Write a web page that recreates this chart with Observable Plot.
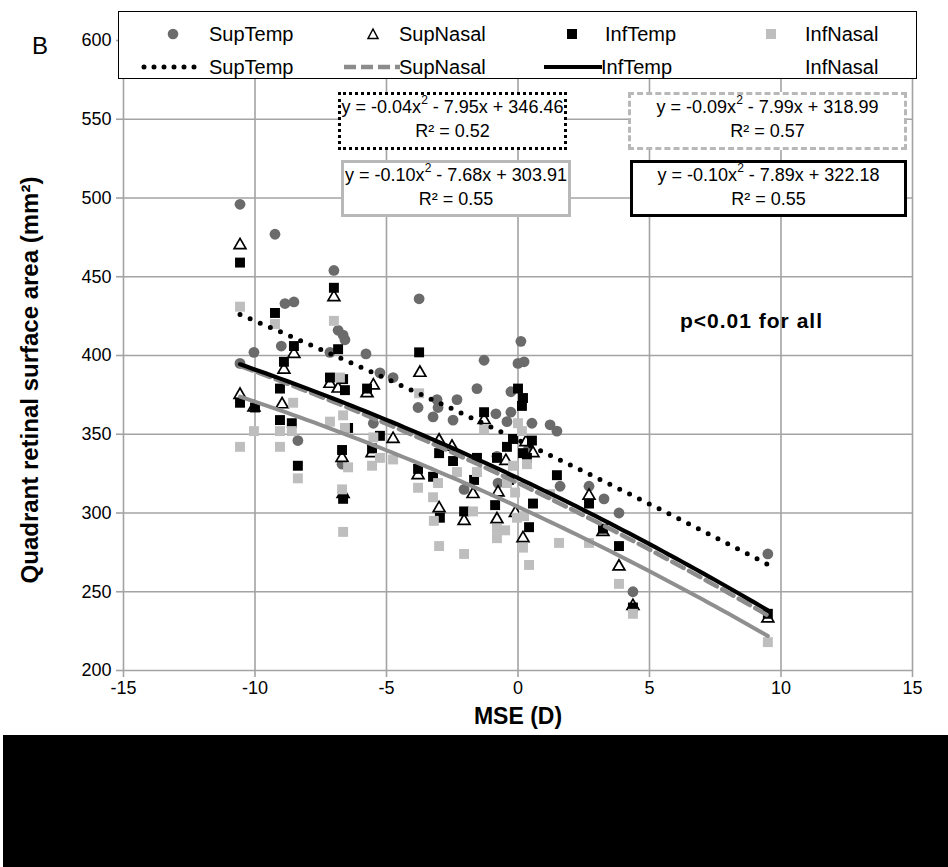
<!DOCTYPE html>
<html><head><meta charset="utf-8">
<script src="https://cdn.jsdelivr.net/npm/d3@7"></script>
<script src="https://cdn.jsdelivr.net/npm/@observablehq/plot@0.6"></script>
<style>
body{margin:0;background:#fff;font-family:"Liberation Sans",Arial,sans-serif;}
#wrap{position:relative;width:948px;height:867px;overflow:hidden;background:#fff;}
.ov{position:absolute;white-space:nowrap;color:#000;}
.eq{position:absolute;background:#fff;text-align:center;font-size:18px;line-height:24px;box-sizing:border-box;white-space:nowrap;}
.eq sup{font-size:12px;vertical-align:top;line-height:12px;position:relative;top:-1px;}
.leg{position:absolute;font-size:20px;line-height:22px;}
</style></head><body><div id="wrap"></div>
<script>
// ---- data ----
const seriesNames = ["SupTemp", "SupNasal", "InfTemp", "InfNasal"];
const xTicks = [-15, -10, -5, 0, 5, 10, 15];
const yTicks = [200, 250, 300, 350, 400, 450, 500, 550, 600];

const supTemp = [[-10.57,496],[-10.57,395],[-10.04,402],[-9.24,477],[-9.0,406],[-8.86,433],[-8.52,434],[-8.37,346],
  [-7.15,402],[-7.0,454],[-6.84,416],[-6.65,413],[-6.58,410],[-6.69,331],[-5.78,401],[-5.5,357],[-5.25,389],
  [-4.75,386],[-3.76,436],[-3.8,367],[-3.08,372],[-3.04,367],[-3.23,361],[-2.32,372],[-2.47,359],[-2.05,315],
  [-1.29,397],[-1.56,379],[-0.84,363],[-0.8,336],[-0.76,319],[-0.42,358],[-0.27,377],[-0.27,364],[0,395],
  [0.11,409],[0.23,396],[0.38,340],[0.53,357],[1.22,356],[1.48,352],[1.6,317],[2.7,317],[3.27,309],[3.84,300],
  [4.37,250],[9.5,274]];
const supNasal = [[-10.57,470],[-10.57,375],[-10.04,367],[-8.97,369],[-8.9,391],[-8.52,401],[-7.0,437],[-7.15,382],
  [-6.84,379],[-6.69,335],[-6.65,312],[-5.74,376],[-5.5,381],[-5.55,338],[-4.75,347],[-3.73,389],[-3.8,324],
  [-3.0,346],[-3.0,303],[-2.51,342],[-2.05,295],[-1.71,312],[-1.29,359],[-0.8,296],[-0.76,313],[-0.46,333],
  [-0.1,300],[0.19,284],[0.3,345],[0.57,338],[2.7,311],[3.23,288],[3.84,266],[4.37,241],[9.5,233]];
const infTemp = [[-10.57,459],[-10.57,370],[-10.0,367],[-9.24,427],[-9.05,379],[-9.05,359],[-8.9,396],[-8.6,357],
  [-8.52,406],[-8.37,330],[-7.0,443],[-7.15,386],[-6.84,404],[-6.65,385],[-6.58,378],[-6.46,354],[-6.69,340],
  [-6.65,309],[-5.74,379],[-5.55,341],[-5.25,349],[-3.76,402],[-3.8,328],[-3.23,323],[-3.0,338],[-2.97,297],
  [-2.47,333],[-2.05,301],[-1.67,321],[-1.56,335],[-1.29,364],[-0.87,305],[-0.8,335],[-0.42,342],[-0.34,321],
  [-0.19,347],[0,379],[0.19,373],[0.15,368],[0.19,338],[0.34,335],[0.53,346],[0.57,306],[0.42,291],[1.48,324],
  [2.7,306],[3.23,290],[3.84,279],[4.37,240],[9.5,236]];
const infNasal = [[-10.57,431],[-10.57,342],[-10.04,352],[-9.24,420],[-9.05,352],[-9.05,342],[-8.55,370],[-8.6,352],
  [-8.37,322],[-7.0,422],[-7.15,358],[-6.77,386],[-6.65,362],[-6.58,354],[-6.46,329],[-6.69,315],[-6.65,288],
  [-5.55,330],[-5.5,348],[-5.25,335],[-4.75,334],[-3.76,376],[-3.8,316],[-3.23,310],[-3.04,319],[-3.2,295],
  [-3.0,279],[-2.32,326],[-2.05,274],[-1.71,301],[-1.56,326],[-1.29,353],[-0.8,290],[-0.8,284],[-0.49,289],
  [-0.42,319],[-0.19,330],[-0.11,313],[-0.04,297],[0,357],[0.15,352],[0.19,278],[0.23,298],[0.34,331],
  [0.42,267],[1.22,312],[1.56,281],[2.7,281],[3.84,255],[4.37,236],[9.5,218]];

// quadratic trendline coefficients as printed on the chart (y = a x^2 + b x + c)
const coefA = [-0.04, -0.09, -0.10, -0.10];
const coefB = [-7.95, -7.99, -7.89, -7.68];
const coefC = [346.46, 318.99, 322.18, 303.91];
const rSquared = [0.52, 0.57, 0.55, 0.55];

// ---- build ----
const allSeries = [supTemp, supNasal, infTemp, infNasal];
function trend(i) {
  const xs = allSeries[i].map(d => d[0]);
  const lo = d3.min(xs), hi = d3.max(xs);
  return d3.range(0, 81).map(k => {
    const x = lo + (hi - lo) * k / 80;
    return {x, y: coefA[i] * x * x + coefB[i] * x + coefC[i]};
  });
}
const gridStroke = "#a3a3a3";
const px = d => d[0], py = d => d[1];

const chart = Plot.plot({
  width: 948, height: 735,
  marginLeft: 123, marginRight: 36, marginTop: 40, marginBottom: 65,
  x: {domain: [-15, 15]},
  y: {domain: [200, 600]},
  style: {fontFamily: "'Liberation Sans', Arial, sans-serif", fontSize: "18px", background: "#fff", color: "#000"},
  marks: [
    Plot.gridX(xTicks, {stroke: gridStroke, strokeOpacity: 1, strokeWidth: 1.6}),
    Plot.gridY(yTicks, {stroke: gridStroke, strokeOpacity: 1, strokeWidth: 1.6}),
    Plot.axisX({ticks: xTicks, tickSize: 7, tickPadding: 4, stroke: gridStroke, strokeWidth: 1.6, label: null, tickFormat: d => String(d).replace("−", "-")}),
    Plot.axisY({ticks: yTicks, tickSize: 7, tickPadding: 5, stroke: gridStroke, strokeWidth: 1.6, label: null}),
    Plot.dot(supTemp, {x: px, y: py, r: 5.4, symbol: "circle", fill: "#6b6b6b"}),
    Plot.dot(supNasal, {x: px, y: py, r: 4.4, symbol: "triangle", fill: "#fff", stroke: "#000", strokeWidth: 1.7}),
    Plot.dot(infTemp, {x: px, y: py, r: 5.6, symbol: "square", fill: "#000"}),
    Plot.dot(infNasal, {x: px, y: py, r: 5.6, symbol: "square", fill: "#bebebe"}),
    Plot.line(trend(0), {x: "x", y: "y", stroke: "#000", strokeWidth: 5, strokeDasharray: "0 11", strokeLinecap: "round"}),
    Plot.line(trend(1), {x: "x", y: "y", stroke: "#8c8c8c", strokeWidth: 4.5, strokeDasharray: "13 6"}),
    Plot.line(trend(2), {x: "x", y: "y", stroke: "#000", strokeWidth: 4.2}),
    Plot.line(trend(3), {x: "x", y: "y", stroke: "#8f8f8f", strokeWidth: 4})
  ]
});

const wrap = document.getElementById("wrap");
wrap.appendChild(chart);
chart.style.position = "absolute"; chart.style.left = "0"; chart.style.top = "0";

function addDiv(html, css, cls) {
  const d = document.createElement("div");
  d.className = cls || "ov";
  d.innerHTML = html;
  Object.assign(d.style, css);
  wrap.appendChild(d);
  return d;
}
const fmt = v => v.toFixed(2);
function eqText(i) {
  const a = coefA[i], b = coefB[i], c = coefC[i];
  return `y = ${a < 0 ? "-" : ""}${fmt(Math.abs(a))}x<sup>2</sup> ${b < 0 ? "-" : "+"} ${fmt(Math.abs(b))}x ${c < 0 ? "-" : "+"} ${fmt(Math.abs(c))}<br>R² = ${fmt(rSquared[i])}`;
}
// equation boxes
addDiv(eqText(0), {left: "338px", top: "92px", width: "229px", height: "58px", border: "3px dotted #000"}, "eq");
addDiv(eqText(1), {left: "628px", top: "92px", width: "279px", height: "58px", border: "3px dashed #b8b8b8"}, "eq");
addDiv(eqText(3), {left: "341px", top: "160px", width: "230px", height: "57px", border: "3px solid #b8b8b8"}, "eq");
addDiv(eqText(2), {left: "630px", top: "160px", width: "277px", height: "57px", border: "3px solid #000"}, "eq");

// p-value note
addDiv("p&lt;0.01 for all", {left: "680px", top: "309px", fontSize: "21px", fontWeight: "bold", letterSpacing: "1px"});

// axis titles & panel letter
addDiv("B", {left: "32px", top: "32px", fontSize: "24px"});
addDiv("MSE (D)", {left: "418px", width: "200px", textAlign: "center", top: "703px", fontSize: "23px", fontWeight: "bold"});
addDiv("Quadrant retinal surface area (mm²)", {left: "-220px", top: "366px", width: "500px", textAlign: "center", fontSize: "24px", fontWeight: "bold", transform: "rotate(-90deg)", transformOrigin: "50% 50%"});

// legend
const legend = addDiv("", {left: "118px", top: "11px", width: "799px", height: "68px", border: "1.5px solid #000", background: "#fff", boxSizing: "border-box"});
const colX = [208, 398, 604, 804];
const symX = [172, 372, 571, 770];
const row1 = 22, row2 = 55;
const sym = [
  `<circle cx="8" cy="8" r="5.3" fill="#6b6b6b"/>`,
  `<path d="M8,3 L13,12.5 L3,12.5 Z" fill="#fff" stroke="#000" stroke-width="1.5"/>`,
  `<rect x="3" y="3" width="10" height="10" fill="#000"/>`,
  `<rect x="3" y="3" width="10" height="10" fill="#bebebe"/>`
];
const lineSym = [
  {x1: 143, x2: 198, stroke: "#000", w: 5, dash: "0 10", cap: "round"},
  {x1: 343, x2: 399, stroke: "#8c8c8c", w: 4.5, dash: "12 5", cap: "butt"},
  {x1: 543, x2: 601, stroke: "#000", w: 4.2, dash: "none", cap: "butt"},
  null
];
seriesNames.forEach((name, i) => {
  const s = document.createElementNS("http://www.w3.org/2000/svg", "svg");
  s.setAttribute("width", 16); s.setAttribute("height", 16);
  s.innerHTML = sym[i];
  Object.assign(s.style, {position: "absolute", left: (symX[i] - 118 - 8) + "px", top: (row1 - 8) + "px"});
  legend.appendChild(s);
  const t1 = document.createElement("div");
  t1.className = "leg"; t1.textContent = name;
  Object.assign(t1.style, {left: (colX[i] - 118) + "px", top: (row1 - 11) + "px"});
  legend.appendChild(t1);
  const t2 = document.createElement("div");
  t2.className = "leg"; t2.textContent = name;
  Object.assign(t2.style, {left: (colX[i] - 118 - (i === 2 ? 4 : 0)) + "px", top: (row2 - 11) + "px"});
  legend.appendChild(t2);
  const L = lineSym[i];
  if (L) {
    const ls = document.createElementNS("http://www.w3.org/2000/svg", "svg");
    ls.setAttribute("width", L.x2 - L.x1 + 6); ls.setAttribute("height", 10);
    ls.innerHTML = `<line x1="3" y1="5" x2="${L.x2 - L.x1 + 3}" y2="5" stroke="${L.stroke}" stroke-width="${L.w}" stroke-dasharray="${L.dash}" stroke-linecap="${L.cap}"/>`;
    Object.assign(ls.style, {position: "absolute", left: (L.x1 - 118 - 3) + "px", top: (row2 - 5) + "px"});
    legend.appendChild(ls);
  }
});

// black band at the bottom of the figure
addDiv("", {left: "3px", top: "735px", width: "945px", height: "132px", background: "#000"});
</script></body></html>
